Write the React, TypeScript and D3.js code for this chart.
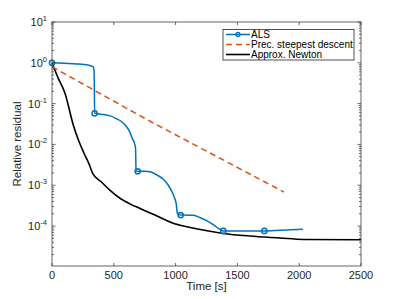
import React, { useEffect, useRef } from "react";
import * as d3 from "d3";

// ALS (blue, with markers at each sweep)
const alsTime = [0, 100, 200, 291, 334, 341, 345, 400, 470, 520, 564, 600, 630, 650, 668, 676, 680, 693, 750, 800, 847, 900, 941, 970, 990, 1005, 1015, 1041, 1100, 1143, 1200, 1265, 1320, 1346, 1386, 1500, 1718, 1850, 2030];
const alsResid = [1.0, 0.97, 0.94, 0.88, 0.8, 0.6, 0.058, 0.055, 0.05, 0.043, 0.036, 0.028, 0.02, 0.014, 0.0105, 0.008, 0.0023, 0.0022, 0.0022, 0.0021, 0.0018, 0.0014, 0.001, 0.0007, 0.0005, 0.00035, 0.0002, 0.000186, 0.000185, 0.000183, 0.00016, 0.000128, 0.0001, 0.000088, 0.000076, 0.000076, 0.000076, 0.000079, 0.000083];
const alsMarkT = [0, 345, 693, 1041, 1386, 1718];
const alsMarkR = [1.0, 0.058, 0.0022, 0.000186, 0.000076, 0.000076];

// Prec. steepest descent (orange dashed)
const sdTime = [0, 800, 1877];
const sdResid = [0.8, 0.036, 0.00068];

// Approx. Newton (black)
const nwTime = [0, 50, 105, 172, 213, 260, 300, 329, 400, 470, 550, 630, 712, 833, 981, 1100, 1200, 1386, 1600, 1845, 2033, 2500];
const nwResid = [1, 0.42, 0.18, 0.03, 0.013, 0.006, 0.0033, 0.00195, 0.0012, 0.00075, 0.00048, 0.00035, 0.00027, 0.000186, 0.000117, 0.000095, 0.000082, 0.000066, 0.000057, 0.000051, 0.000047, 0.000046];

const xTicks = [0, 500, 1000, 1500, 2000, 2500];
const yExps = [1, 0, -1, -2, -3, -4];
const legendLabels = ["ALS", "Prec. steepest descent", "Approx. Newton"];

export default function App() {
  const ref = useRef<SVGSVGElement>(null);

  useEffect(() => {
    const svg = d3.select(ref.current);
    svg.selectAll("*").remove();

    const left = 52, right = 361, top = 22, bottom = 266;
    const x = d3.scaleLinear().domain([0, 2500]).range([left, right]);
    const y = d3.scaleLog().domain([1.05e-5, 10]).range([bottom, top]);
    const font = "'Liberation Sans', Arial, sans-serif";
    const axisCol = "#404040";

    svg.append("rect").attr("width", 399).attr("height", 299).attr("fill", "white");

    const line = d3.line<[number, number]>().x((d) => x(d[0])).y((d) => y(d[1]));
    const smooth = d3.line<[number, number]>().x((d) => x(d[0])).y((d) => y(d[1])).curve(d3.curveMonotoneX);

    const plot = svg.append("g");
    plot.append("path")
      .attr("d", smooth(nwTime.map((t, i) => [t, nwResid[i]]))!)
      .attr("fill", "none").attr("stroke", "#000").attr("stroke-width", 1.6);
    plot.append("path")
      .attr("d", line(sdTime.map((t, i) => [t, sdResid[i]]))!)
      .attr("fill", "none").attr("stroke", "#D95319").attr("stroke-width", 1.5)
      .attr("stroke-dasharray", "6,4");
    plot.append("path")
      .attr("d", smooth(alsTime.map((t, i) => [t, alsResid[i]]))!)
      .attr("fill", "none").attr("stroke", "#0072BD").attr("stroke-width", 1.5);
    plot.selectAll(".mk").data(alsMarkT).enter().append("circle")
      .attr("cx", (d) => x(d)).attr("cy", (d, i) => y(alsMarkR[i]))
      .attr("r", 2.6).attr("fill", "none").attr("stroke", "#0072BD").attr("stroke-width", 1.5);

    // box + ticks
    const ax = svg.append("g").attr("stroke", axisCol).attr("stroke-width", 0.8);
    ax.append("rect").attr("x", left).attr("y", top).attr("width", right - left).attr("height", bottom - top)
      .attr("fill", "none");
    xTicks.forEach((t) => {
      ax.append("line").attr("x1", x(t)).attr("x2", x(t)).attr("y1", bottom).attr("y2", bottom - 3);
      ax.append("line").attr("x1", x(t)).attr("x2", x(t)).attr("y1", top).attr("y2", top + 3);
    });
    for (let e = -5; e <= 0; e++) {
      for (let m = 1; m <= 9; m++) {
        const v = m * Math.pow(10, e);
        if (v < 1.05e-5 || v > 10) continue;
        const len = m === 1 ? 3.5 : 2;
        ax.append("line").attr("x1", left).attr("x2", left + len).attr("y1", y(v)).attr("y2", y(v));
        ax.append("line").attr("x1", right).attr("x2", right - len).attr("y1", y(v)).attr("y2", y(v));
      }
    }
    ax.append("line").attr("x1", left).attr("x2", left + 3.5).attr("y1", y(10)).attr("y2", y(10));
    ax.append("line").attr("x1", right).attr("x2", right - 3.5).attr("y1", y(10)).attr("y2", y(10));

    // tick labels
    svg.selectAll(".xt").data(xTicks).enter().append("text")
      .attr("x", (d) => x(d)).attr("y", bottom + 13)
      .attr("text-anchor", "middle").attr("font-family", font).attr("font-size", 11)
      .attr("fill", "#262626").text((d) => String(d));
    yExps.forEach((e) => {
      const tx = svg.append("text").attr("x", left - 5).attr("y", y(Math.pow(10, e)) + 4)
        .attr("text-anchor", "end").attr("font-family", font).attr("font-size", 11).attr("fill", "#262626");
      tx.append("tspan").text("10");
      tx.append("tspan").attr("dy", -5).attr("font-size", 7.5).text(String(e));
    });

    svg.append("text").attr("x", (left + right) / 2).attr("y", 290).attr("text-anchor", "middle")
      .attr("font-family", font).attr("font-size", 11.5).attr("fill", "#262626").text("Time [s]");
    svg.append("text").attr("transform", `translate(21,${(top + bottom) / 2}) rotate(-90)`)
      .attr("text-anchor", "middle").attr("font-family", font).attr("font-size", 11.5).attr("fill", "#262626")
      .text("Relative residual");

    // legend
    const lg = svg.append("g");
    lg.append("rect").attr("x", 223).attr("y", 29.5).attr("width", 131).attr("height", 30.5)
      .attr("fill", "white").attr("stroke", "#262626").attr("stroke-width", 0.8);
    const styles = [
      { c: "#0072BD", dash: null as string | null, w: 1.5 },
      { c: "#D95319", dash: "6,4", w: 1.5 },
      { c: "#000", dash: null as string | null, w: 1.6 },
    ];
    legendLabels.forEach((lab, i) => {
      const yy = 34.5 + i * 10;
      const l = lg.append("line").attr("x1", 226).attr("x2", 250).attr("y1", yy).attr("y2", yy)
        .attr("stroke", styles[i].c).attr("stroke-width", styles[i].w);
      if (styles[i].dash) l.attr("stroke-dasharray", styles[i].dash);
      if (i === 0) {
        lg.append("circle").attr("cx", 238).attr("cy", yy).attr("r", 2).attr("fill", "none")
          .attr("stroke", styles[i].c).attr("stroke-width", 1.3);
      }
      lg.append("text").attr("x", 251).attr("y", yy + 3.5).attr("font-family", font).attr("font-size", 10)
        .attr("fill", "#000").text(lab);
    });
  }, []);

  return <svg ref={ref} width={399} height={299} style={{ display: "block", position: "absolute", left: 0, top: 0 }} />;
}
